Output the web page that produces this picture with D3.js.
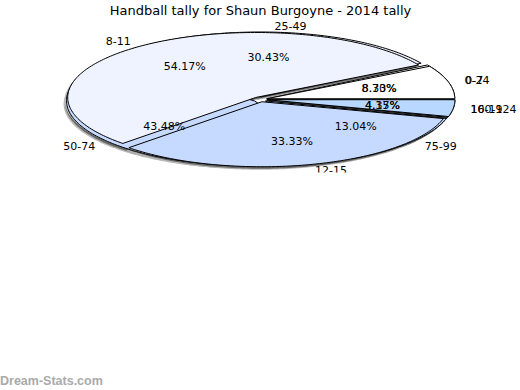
<!DOCTYPE html>
<html>
<head>
<meta charset="utf-8">
<script src="https://cdn.jsdelivr.net/npm/d3@7"></script>
<style>
  html, body { margin: 0; padding: 0; background: #fff; }
  svg { display: block; }
</style>
</head>
<body>
<svg id="chart" width="520" height="390"></svg>
<script>
// ---- data ----
const title = "Handball tally for Shaun Burgoyne - 2014 tally";
const categoriesA = ["0-7", "8-11", "12-15", "16-19"];
const valuesA = [2, 13, 8, 1];
const categoriesB = ["0-24", "25-49", "50-74", "75-99", "100-124"];
const valuesB = [2, 7, 10, 3, 1];
const sliceColors = ["#ffffff", "#eef3ff", "#c6d9ff", "#b8d8ff", "#a9cbfa"];
const watermark = "Dream-Stats.com";

// ---- layout ----
const W = 520, H = 390;
const cx = 260, cy = 99.4, rx = 188, ry = 65;
const explode = 7;
const svg = d3.select("#chart");

svg.append("text")
  .attr("x", W / 2 + 0.5).attr("y", 15)
  .attr("text-anchor", "middle")
  .attr("font-family", "DejaVu Sans")
  .attr("font-size", 13)
  .attr("fill", "#000")
  .text(title);

// counter-clockwise from 3 o'clock (mathematical angle)
const pie = d3.pie().sort(null).startAngle(0).endAngle(2 * Math.PI);
const colorScale = d3.scaleOrdinal().range(sliceColors);

function pt(theta, kx, ky, ox, oy) {
  return [cx + ox + kx * rx * Math.cos(theta), cy + oy - ky * ry * Math.sin(theta)];
}
function slicePath(d, ox, oy) {
  const p = d3.path();
  const a0 = d.startAngle, a1 = d.endAngle;
  const s = pt(a0, 1, 1, ox, oy);
  p.moveTo(cx + ox, cy + oy);
  p.lineTo(s[0], s[1]);
  const n = Math.max(4, Math.ceil((a1 - a0) / 0.02));
  for (let i = 1; i <= n; i++) {
    const t = a0 + (a1 - a0) * i / n;
    const q = pt(t, 1, 1, ox, oy);
    p.lineTo(q[0], q[1]);
  }
  p.closePath();
  return p.toString();
}
function offsetOf(d) {
  const m = (d.startAngle + d.endAngle) / 2;
  return [explode * Math.cos(m), -explode * (ry / rx) * Math.sin(m)];
}

const fmt = d3.format(".2f");
const gShadow = svg.append("g");
const gPie = svg.append("g");
const gText = svg.append("g");

svg.append("clipPath").attr("id", "lblclip")
  .append("rect").attr("x", 0).attr("y", 0).attr("width", W).attr("height", 172.5);
gText.attr("clip-path", "url(#lblclip)");

function drawPie(cats, vals) {
  const arcs = pie(vals);
  const total = d3.sum(vals);
  arcs.forEach(d => {
    const [ox, oy] = offsetOf(d);
    gShadow.append("path").attr("d", slicePath(d, ox - 3, oy + 3)).attr("fill", "#b8b8b8");
    gShadow.append("path").attr("d", slicePath(d, ox - 1.5, oy + 2)).attr("fill", "#666");
  });
  arcs.forEach((d, i) => {
    const [ox, oy] = offsetOf(d);
    gPie.append("path")
      .attr("d", slicePath(d, ox, oy))
      .attr("fill", colorScale(i))
      .attr("stroke", "#000")
      .attr("stroke-width", 1)
      .attr("stroke-linejoin", "round");
  });
  arcs.forEach((d, i) => {
    const [ox, oy] = offsetOf(d);
    const m = (d.startAngle + d.endAngle) / 2;
    const pp = pt(m, 0.62, 0.62, ox, oy);
    gText.append("text")
      .attr("x", pp[0]).attr("y", pp[1] + 1)
      .attr("text-anchor", "middle")
      .attr("dominant-baseline", "middle")
      .attr("font-family", "DejaVu Sans")
      .attr("font-size", 11)
      .text(fmt(vals[i] / total * 100) + "%");
    const lp = pt(m, 1.13, 1.13, 0, 0);
    gText.append("text")
      .attr("x", lp[0]).attr("y", lp[1] + 1)
      .attr("text-anchor", Math.cos(m) >= 0 ? "start" : "end")
      .attr("dominant-baseline", "middle")
      .attr("font-family", "DejaVu Sans")
      .attr("font-size", 11)
      .text(cats[i]);
  });
}

drawPie(categoriesB, valuesB);
drawPie(categoriesA, valuesA);

svg.append("text")
  .attr("x", 0).attr("y", 385)
  .attr("font-family", "Liberation Sans")
  .attr("font-weight", "bold")
  .attr("font-size", 12.5)
  .attr("fill", "#aaaaaa")
  .text(watermark);
</script>
</body>
</html>
